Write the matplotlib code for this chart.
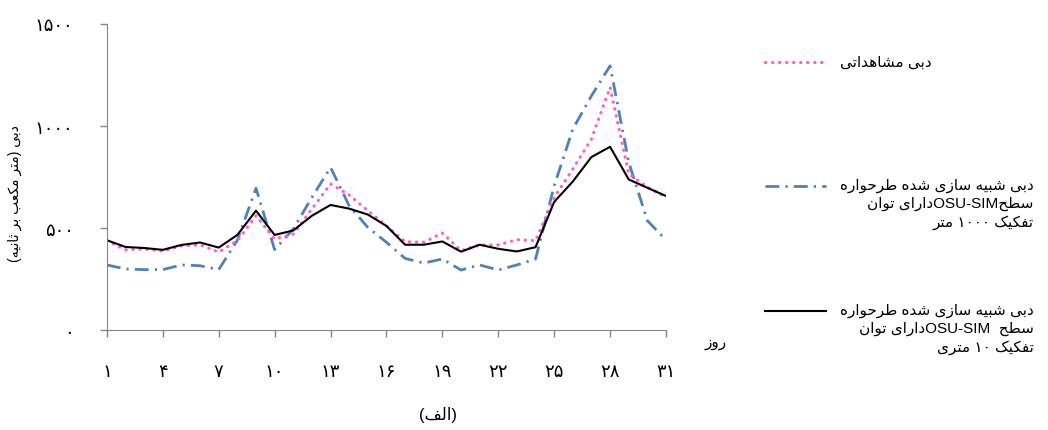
import re
import matplotlib
matplotlib.use("Agg")
import matplotlib.pyplot as plt

# روزهای ماه و مقادیر دبی (متر مکعب بر ثانیه)
days = list(range(1, 32))
observed = [438, 393, 397, 387, 412, 417, 382, 438, 560, 446, 470, 593, 716, 662, 585, 511,
            433, 430, 475, 389, 417, 417, 443, 438, 650, 789, 936, 1190, 765, 701, 652]
sim_1000m = [319, 299, 296, 296, 319, 315, 296, 440, 695, 394, 495, 650, 797, 609, 503, 430,
             351, 328, 348, 294, 319, 294, 319, 348, 707, 985, 1148, 1295, 823, 536, 441]
sim_10m = [440, 407, 402, 393, 417, 429, 404, 466, 585, 466, 488, 560, 613, 595, 566, 510,
           418, 418, 434, 384, 418, 398, 385, 406, 628, 728, 848, 898, 738, 697, 657]

x_ticks = [1, 4, 7, 10, 13, 16, 19, 22, 25, 28, 31]
y_ticks = [0, 500, 1000, 1500]

label_obs = "دبی مشاهداتی"
label_1000 = "دبی شبیه سازی شده طرحواره\nسطحOSU-SIMدارای توان\nتفکیک ۱۰۰۰ متر"
label_10 = "دبی شبیه سازی شده طرحواره\nسطح  OSU-SIMدارای توان\nتفکیک ۱۰ متری"
ylabel = "دبی (متر مکعب بر ثانیه)"
xlabel = "روز"
caption = "(الف)"

# شکل دهی حروف فارسی (matplotlib خودش این کار را نمی کند)
FORMS = {
    'ا': ('\uFE8D', '\uFE8E'),
    'ب': ('\uFE8F', '\uFE90', '\uFE91', '\uFE92'),
    'ت': ('\uFE95', '\uFE96', '\uFE97', '\uFE98'),
    'ث': ('\uFE99', '\uFE9A', '\uFE9B', '\uFE9C'),
    'ح': ('\uFEA1', '\uFEA2', '\uFEA3', '\uFEA4'),
    'د': ('\uFEA9', '\uFEAA'),
    'ر': ('\uFEAD', '\uFEAE'),
    'ز': ('\uFEAF', '\uFEB0'),
    'س': ('\uFEB1', '\uFEB2', '\uFEB3', '\uFEB4'),
    'ش': ('\uFEB5', '\uFEB6', '\uFEB7', '\uFEB8'),
    'ط': ('\uFEC1', '\uFEC2', '\uFEC3', '\uFEC4'),
    'ع': ('\uFEC9', '\uFECA', '\uFECB', '\uFECC'),
    'ف': ('\uFED1', '\uFED2', '\uFED3', '\uFED4'),
    '\u06A9': ('\uFB8E', '\uFB8F', '\uFB90', '\uFB91'),
    '\u0643': ('\uFB8E', '\uFB8F', '\uFB90', '\uFB91'),
    'ل': ('\uFEDD', '\uFEDE', '\uFEDF', '\uFEE0'),
    'م': ('\uFEE1', '\uFEE2', '\uFEE3', '\uFEE4'),
    'ن': ('\uFEE5', '\uFEE6', '\uFEE7', '\uFEE8'),
    'ه': ('\uFEE9', '\uFEEA', '\uFEEB', '\uFEEC'),
    'و': ('\uFEED', '\uFEEE'),
    '\u06CC': ('\uFBFC', '\uFBFD', '\uFBFE', '\uFBFF'),
    '\u064A': ('\uFBFC', '\uFBFD', '\uFBFE', '\uFBFF'),
}
MIRROR = {'(': ')', ')': '('}
LTR = r'[A-Za-z0-9\u06F0-\u06F9\-]+'


def shape(line):
    out = []
    for i, c in enumerate(line):
        if c not in FORMS:
            out.append(c)
            continue
        f = FORMS[c]
        prev = line[i - 1] if i > 0 else ''
        nxt = line[i + 1] if i + 1 < len(line) else ''
        jp = prev in FORMS and len(FORMS[prev]) == 4
        jn = len(f) == 4 and nxt in FORMS
        if jp and jn:
            out.append(f[3])
        elif jp:
            out.append(f[1])
        elif jn:
            out.append(f[2])
        else:
            out.append(f[0])
    return ''.join(out)


def fa(text):
    # پاراگراف راست به چپ: کل خط برعکس، بخش های لاتین/عدد دوباره برگردانده می شوند
    lines = []
    for line in text.split('\n'):
        rev = ''.join(MIRROR.get(ch, ch) for ch in reversed(shape(line)))
        rev = re.sub(LTR, lambda m: m.group(0)[::-1], rev)
        lines.append(rev)
    return '\n'.join(lines)


def fa_num(n):
    return str(n).translate(str.maketrans('0123456789', '۰۱۲۳۴۵۶۷۸۹'))


plt.rcParams['font.family'] = ['Liberation Sans', 'DejaVu Sans']

fig = plt.figure(figsize=(10.48, 4.31), dpi=100)
ax = fig.add_axes([0.102, 0.232, 0.5335, 0.71])

l_1000, = ax.plot(days, sim_1000m, color='#4F81BD', lw=2.0, dashes=(5.0, 2.2, 0.8, 2.2))
l_obs, = ax.plot(days, observed, color='#FF5EC8', lw=2.3, dashes=(0.1, 2.1),
                 dash_capstyle='round')
l_10, = ax.plot(days, sim_10m, color='black', lw=1.5)

ax.set_xlim(1, 31)
ax.set_ylim(0, 1500)
ax.set_xticks(x_ticks)
ax.set_xticklabels([fa_num(d) for d in x_ticks], fontsize=13)
ax.set_yticks(y_ticks)
ax.set_yticklabels([fa_num(v) for v in y_ticks], fontsize=13)
ax.tick_params(axis='both', direction='out', length=5, color='#868686', width=1)
ax.tick_params(axis='y', pad=19)
ax.tick_params(axis='x', pad=19)
for s in ['top', 'right']:
    ax.spines[s].set_visible(False)
for s in ['left', 'bottom']:
    ax.spines[s].set_color('#868686')

ax.set_ylabel(fa(ylabel), fontsize=10)
ax.yaxis.set_label_coords(-0.152, 0.45)
ax.text(1.088, -0.04, fa(xlabel), transform=ax.transAxes, fontsize=11,
        ha='center', va='center')
ax.text(0.592, -0.275, fa(caption), transform=ax.transAxes, fontsize=12,
        ha='center', va='center')

pad = '\n\n'
leg = fig.legend([l_obs, l_1000, l_10],
                 [fa(pad + label_obs + pad), fa(pad + label_1000), fa(pad + label_10)],
                 loc='upper left', bbox_to_anchor=(0.73, 0.954), frameon=False,
                 fontsize=11, handlelength=4.0, handletextpad=0.9,
                 labelspacing=2.5, borderpad=0, borderaxespad=0)
for t in leg.get_texts():
    t.set_multialignment('right')
    t.set_linespacing(1.35)

fig.savefig('out.png', dpi=100)
